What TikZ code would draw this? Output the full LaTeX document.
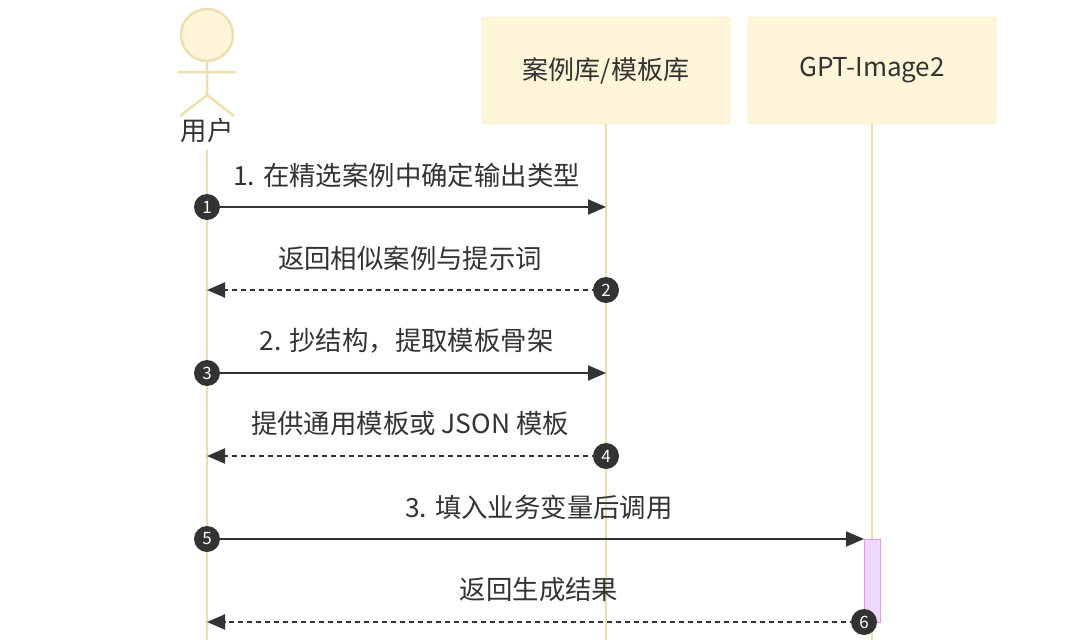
\documentclass[tikz,border=0pt]{standalone}
\usepackage{fontspec}
\setmainfont{Noto Sans CJK SC}
\usetikzlibrary{arrows.meta}
\definecolor{life}{HTML}{EBDDB0}
\definecolor{boxfill}{HTML}{FFF5D9}
\definecolor{boxdraw}{HTML}{EEDFB0}
\definecolor{ink}{HTML}{333333}
\begin{document}
\begin{tikzpicture}[x=1pt,y=-1pt,
  lifeline/.style={life,line width=2.5pt},
  part/.style={draw=boxdraw,fill=boxfill,rounded corners=3pt,minimum width=248pt,minimum height=107pt,font=\fontsize{26}{30}\selectfont,text=ink},
  msg/.style={ink,line width=2pt,-{Triangle[length=18pt,width=15pt]}},
  ret/.style={msg,dash pattern=on 5pt off 4pt},
  num/.style={circle,fill=ink,text=white,inner sep=0pt,minimum size=26pt,font=\fontsize{17}{19}\selectfont},
  lbl/.style={font=\fontsize{26.4}{30}\selectfont,text=ink}]
\useasboundingbox (0,0) rectangle (1080,640);
% actor
\draw[boxdraw,fill=boxfill,line width=2.5pt] (207,35) circle (26);
\draw[boxdraw,line width=2.5pt] (207,61) -- (207,95) (178,72) -- (236,72) (180,116) -- (207,95) -- (234,116);
\node[lbl] (user) at (207,130) {用户};
\node[part] (lib) at (606,70.5) {案例库/模板库};
\node[part] (gpt) at (872,70.5) {GPT-Image2};
\coordinate (u0) at (207,150); \coordinate (u1) at (207,640);
\coordinate (l1) at (606,640); \coordinate (g1) at (872,640);
\draw[lifeline] (u0) -- (u1);
\draw[lifeline] (lib.south) -- (l1);
\draw[lifeline] (gpt.south) -- (g1);
\node[draw={rgb,255:red,230;green,150;blue,250},fill={rgb,255:red,242;green,215;blue,252},minimum width=16pt,minimum height=83pt,inner sep=0pt] (act) at (872,580.5) {};
% coordinates
\foreach \y/\n in {207/1,290/2,373/3,456/4,539/5,622/6}{
  \coordinate (u\n) at (207,\y); \coordinate (l\n) at (606,\y); \coordinate (g\n) at (864,\y);}
\draw[msg] (u1) -- (l1);
\draw[ret] (l2) -- (u2);
\draw[msg] (u3) -- (l3);
\draw[ret] (l4) -- (u4);
\draw[msg] (u5) -- (g5);
\draw[ret] (g6) -- (u6);
\node[num] (n1) at (u1) {1};
\node[num] (n2) at (l2) {2};
\node[num] (n3) at (u3) {3};
\node[num] (n4) at (l4) {4};
\node[num] (n5) at (u5) {5};
\node[num] (n6) at (g6) {6};
\node[lbl] (t1) at (406.5,175) {1. 在精选案例中确定输出类型};
\node[lbl] (t2) at (410,258) {返回相似案例与提示词};
\node[lbl] (t3) at (406.5,341) {2. 抄结构，提取模板骨架};
\node[lbl] (t4) at (410,424) {提供通用模板或 JSON 模板};
\node[lbl] (t5) at (539,507) {3. 填入业务变量后调用};
\node[lbl] (t6) at (539,590) {返回生成结果};
\end{tikzpicture}
\end{document}
